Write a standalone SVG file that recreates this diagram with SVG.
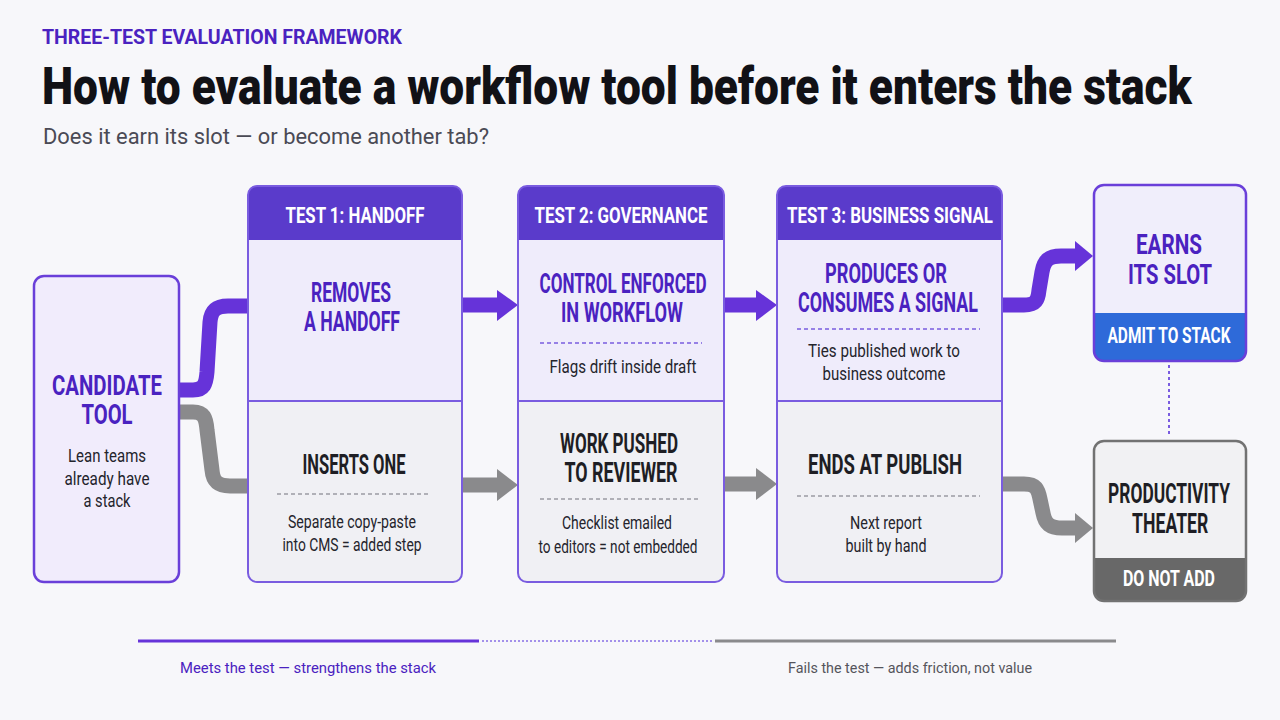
<svg xmlns="http://www.w3.org/2000/svg" width="1280" height="720" viewBox="0 0 1280 720">
<style>
  .bg { fill: #f7f7fa; }
  .eyebrow { font-family: Roboto, "Liberation Sans", sans-serif; font-weight: 700; font-size: 20px; fill: #4a22c0; }
  .title { font-family: Roboto, "Liberation Sans", sans-serif; font-weight: 900; font-size: 52px; fill: #111116; }
  .sub { font-family: Roboto, "Liberation Sans", sans-serif; font-weight: 400; font-size: 22px; fill: #4a4a55; }
  .hdr { font-family: Roboto, "Liberation Sans", sans-serif; font-weight: 700; font-size: 22px; fill: #ffffff; text-anchor: middle; }
  .hp { font-family: Roboto, "Liberation Sans", sans-serif; font-weight: 700; font-size: 27px; fill: #4a22c0; text-anchor: middle; }
  .hg { font-family: Roboto, "Liberation Sans", sans-serif; font-weight: 700; font-size: 27px; fill: #1e1e24; text-anchor: middle; }
  .body { font-family: Roboto, "Liberation Sans", sans-serif; font-weight: 400; font-size: 19px; fill: #24242c; text-anchor: middle; }
  .hdrfill { fill: #5a3bcb; }
  .topfill { fill: #efecfb; }
  .botfill { fill: #f0f0f4; }
  .outline { fill: none; stroke: #7a5ce0; stroke-width: 2; }
  .divider { stroke: #7a5ce0; stroke-width: 2; }
  .dashp { stroke: #7a5ce0; stroke-width: 1.5; stroke-dasharray: 4 3; fill: none; }
  .dashg { stroke: #9a9aa2; stroke-width: 1.5; stroke-dasharray: 4 3; fill: none; }
  .cp { fill: none; stroke: #6633d9; stroke-width: 15; }
  .cg { fill: none; stroke: #8a8a8c; stroke-width: 15; }
  .hpf { fill: #6633d9; }
  .hgf { fill: #8a8a8c; }
  .leg { font-family: Roboto, "Liberation Sans", sans-serif; font-weight: 400; font-size: 15px; text-anchor: middle; }
</style>
<rect class="bg" x="0" y="0" width="1280" height="720"/>

<g id="header">
  <text class="eyebrow" x="42" y="44" textLength="360" lengthAdjust="spacingAndGlyphs">THREE-TEST EVALUATION FRAMEWORK</text>
  <g transform="translate(42,104) scale(0.72,1)">
    <text class="title" x="0" y="0" textLength="1597" lengthAdjust="spacingAndGlyphs">How to evaluate a workflow tool before it enters the stack</text>
  </g>
  <text class="sub" x="43" y="144" textLength="446" lengthAdjust="spacingAndGlyphs">Does it earn its slot — or become another tab?</text>
</g>

<g id="connectors">
  <path class="cp" d="M179,390 H193 C204,390 206,384 207,372 L210,322 C211,310 216,306 228,306 H249"/>
  <path class="cg" d="M179,412 H193 C204,412 206,418 207,430 L212,470 C213,482 218,486 230,486 H249"/>
  <path class="cp" d="M462,305 H499"/>
  <polygon class="hpf" points="497,290 518,305 497,321"/>
  <path class="cg" d="M462,485 H499"/>
  <polygon class="hgf" points="497,469 518,485 497,501"/>
  <path class="cp" d="M724,305 H758"/>
  <polygon class="hpf" points="756,290 777,305 756,321"/>
  <path class="cg" d="M724,484 H758"/>
  <polygon class="hgf" points="756,468 777,484 756,500"/>
  <path class="cp" d="M1002,305 H1024 C1036,305 1038,300 1039,290 L1042,272 C1044,260 1049,256 1061,256 H1078"/>
  <polygon class="hpf" points="1075,241 1093,256 1075,271"/>
  <path class="cg" d="M1002,484 H1024 C1036,484 1038,489 1040,499 L1043,513 C1045,524 1050,528 1062,528 H1078"/>
  <polygon class="hgf" points="1075,513 1093,528 1075,543"/>
  <path d="M1169,365 V434" stroke="#7a5ce0" stroke-width="2" stroke-dasharray="3 3" fill="none"/>
</g>

<g id="candidate">
  <rect x="34" y="276" width="145" height="306" rx="10" fill="#f1ecfc" stroke="#6a3fd9" stroke-width="2.5"/>
  <text class="hp"><tspan x="107" y="395" textLength="110" lengthAdjust="spacingAndGlyphs">CANDIDATE</tspan><tspan x="107" y="424" textLength="51" lengthAdjust="spacingAndGlyphs">TOOL</tspan></text>
  <text class="body" x="107" y="462" textLength="78" lengthAdjust="spacingAndGlyphs">Lean teams</text>
  <text class="body" x="107" y="485" textLength="85" lengthAdjust="spacingAndGlyphs">already have</text>
  <text class="body" x="107" y="507" textLength="47" lengthAdjust="spacingAndGlyphs">a stack</text>
</g>

<g id="test1">
  <rect class="topfill" x="248" y="240" width="214" height="161"/>
  <path class="botfill" d="M248,401 H462 V573 Q462,582 453,582 H257 Q248,582 248,573 Z"/>
  <path class="hdrfill" d="M248,240 V195 Q248,186 257,186 H453 Q462,186 462,195 V240 Z"/>
  <rect class="outline" x="248" y="186" width="214" height="396" rx="9"/>
  <line class="divider" x1="248" y1="401" x2="462" y2="401"/>
  <text class="hdr" x="355" y="223" textLength="139" lengthAdjust="spacingAndGlyphs">TEST 1: HANDOFF</text>
  <text class="hp"><tspan x="351" y="302" textLength="80" lengthAdjust="spacingAndGlyphs">REMOVES</tspan><tspan x="352" y="331" textLength="96" lengthAdjust="spacingAndGlyphs">A HANDOFF</tspan></text>
  <text class="hg" x="354" y="474" textLength="103" lengthAdjust="spacingAndGlyphs">INSERTS ONE</text>
  <line class="dashg" x1="277" y1="494" x2="431" y2="494"/>
  <text class="body" x="352" y="528" textLength="128" lengthAdjust="spacingAndGlyphs">Separate copy-paste</text>
  <text class="body" x="352" y="551" textLength="139" lengthAdjust="spacingAndGlyphs">into CMS = added step</text>
</g>

<g id="test2">
  <rect class="topfill" x="518" y="240" width="206" height="161"/>
  <path class="botfill" d="M518,401 H724 V573 Q724,582 715,582 H527 Q518,582 518,573 Z"/>
  <path class="hdrfill" d="M518,240 V195 Q518,186 527,186 H715 Q724,186 724,195 V240 Z"/>
  <rect class="outline" x="518" y="186" width="206" height="396" rx="9"/>
  <line class="divider" x1="518" y1="401" x2="724" y2="401"/>
  <text class="hdr" x="621" y="223" textLength="173" lengthAdjust="spacingAndGlyphs">TEST 2: GOVERNANCE</text>
  <text class="hp"><tspan x="623" y="293" textLength="167" lengthAdjust="spacingAndGlyphs">CONTROL ENFORCED</tspan><tspan x="622" y="322" textLength="122" lengthAdjust="spacingAndGlyphs">IN WORKFLOW</tspan></text>
  <line class="dashp" x1="540" y1="343" x2="702" y2="343"/>
  <text class="body" x="623" y="373" textLength="147" lengthAdjust="spacingAndGlyphs">Flags drift inside draft</text>
  <text class="hg"><tspan x="619" y="453" textLength="118" lengthAdjust="spacingAndGlyphs">WORK PUSHED</tspan><tspan x="621" y="482" textLength="113" lengthAdjust="spacingAndGlyphs">TO REVIEWER</tspan></text>
  <line class="dashg" x1="540" y1="499" x2="700" y2="499"/>
  <text class="body" x="617" y="529" textLength="110" lengthAdjust="spacingAndGlyphs">Checklist emailed</text>
  <text class="body" x="618" y="553" textLength="159" lengthAdjust="spacingAndGlyphs">to editors = not embedded</text>
</g>

<g id="test3">
  <rect class="topfill" x="777" y="240" width="225" height="161"/>
  <path class="botfill" d="M777,401 H1002 V573 Q1002,582 993,582 H786 Q777,582 777,573 Z"/>
  <path class="hdrfill" d="M777,240 V195 Q777,186 786,186 H993 Q1002,186 1002,195 V240 Z"/>
  <rect class="outline" x="777" y="186" width="225" height="396" rx="9"/>
  <line class="divider" x1="777" y1="401" x2="1002" y2="401"/>
  <text class="hdr" x="890" y="223" textLength="206" lengthAdjust="spacingAndGlyphs">TEST 3: BUSINESS SIGNAL</text>
  <text class="hp"><tspan x="886" y="283" textLength="122" lengthAdjust="spacingAndGlyphs">PRODUCES OR</tspan><tspan x="888" y="312" textLength="180" lengthAdjust="spacingAndGlyphs">CONSUMES A SIGNAL</tspan></text>
  <line class="dashp" x1="797" y1="329" x2="980" y2="329"/>
  <text class="body" x="884" y="357" textLength="152" lengthAdjust="spacingAndGlyphs">Ties published work to</text>
  <text class="body" x="884" y="380" textLength="123" lengthAdjust="spacingAndGlyphs">business outcome</text>
  <text class="hg" x="885" y="474" textLength="154" lengthAdjust="spacingAndGlyphs">ENDS AT PUBLISH</text>
  <line class="dashg" x1="797" y1="496" x2="980" y2="496"/>
  <text class="body" x="886" y="529" textLength="72" lengthAdjust="spacingAndGlyphs">Next report</text>
  <text class="body" x="886" y="552" textLength="81" lengthAdjust="spacingAndGlyphs">built by hand</text>
</g>

<g id="earns">
  <rect x="1094" y="185" width="152" height="176" rx="10" fill="#f0eefb"/>
  <path d="M1094,313 H1246 V351 Q1246,361 1236,361 H1104 Q1094,361 1094,351 Z" fill="#2e6ad9"/>
  <rect x="1094" y="185" width="152" height="176" rx="10" fill="none" stroke="#6a3fd9" stroke-width="2.5"/>
  <text class="hp" font-size="29"><tspan x="1169" y="254" textLength="66" lengthAdjust="spacingAndGlyphs">EARNS</tspan><tspan x="1170" y="284" textLength="84" lengthAdjust="spacingAndGlyphs">ITS SLOT</tspan></text>
  <g transform="translate(1169,343) scale(0.75,1)">
    <text class="hdr" x="0" y="0" font-size="20" textLength="164" lengthAdjust="spacingAndGlyphs">ADMIT TO STACK</text>
  </g>
</g>

<g id="theater">
  <rect x="1094" y="441" width="152" height="160" rx="10" fill="#f1f1f3"/>
  <path d="M1094,558 H1246 V591 Q1246,601 1236,601 H1104 Q1094,601 1094,591 Z" fill="#686868"/>
  <rect x="1094" y="441" width="152" height="160" rx="10" fill="none" stroke="#727272" stroke-width="2.5"/>
  <g transform="translate(1169,0) scale(0.6,1)">
    <text class="hg" font-size="29"><tspan x="0" y="503" textLength="203" lengthAdjust="spacingAndGlyphs">PRODUCTIVITY</tspan><tspan x="2" y="533" textLength="127" lengthAdjust="spacingAndGlyphs">THEATER</tspan></text>
  </g>
  <text class="hdr" x="1169" y="586" font-size="20" fill="#f4f4f4" textLength="92" lengthAdjust="spacingAndGlyphs">DO NOT ADD</text>
</g>

<g id="legend">
  <line x1="138" y1="641" x2="479" y2="641" stroke="#6633d9" stroke-width="3"/>
  <line x1="482" y1="641" x2="712" y2="641" stroke="#a390ea" stroke-width="2" stroke-dasharray="2 2"/>
  <line x1="715" y1="641" x2="1116" y2="641" stroke="#8a8a8c" stroke-width="3"/>
  <text class="leg" x="308" y="673" fill="#4a22c0" textLength="256" lengthAdjust="spacingAndGlyphs">Meets the test — strengthens the stack</text>
  <text class="leg" x="910" y="673" fill="#55555c" textLength="244" lengthAdjust="spacingAndGlyphs">Fails the test — adds friction, not value</text>
</g>
</svg>
